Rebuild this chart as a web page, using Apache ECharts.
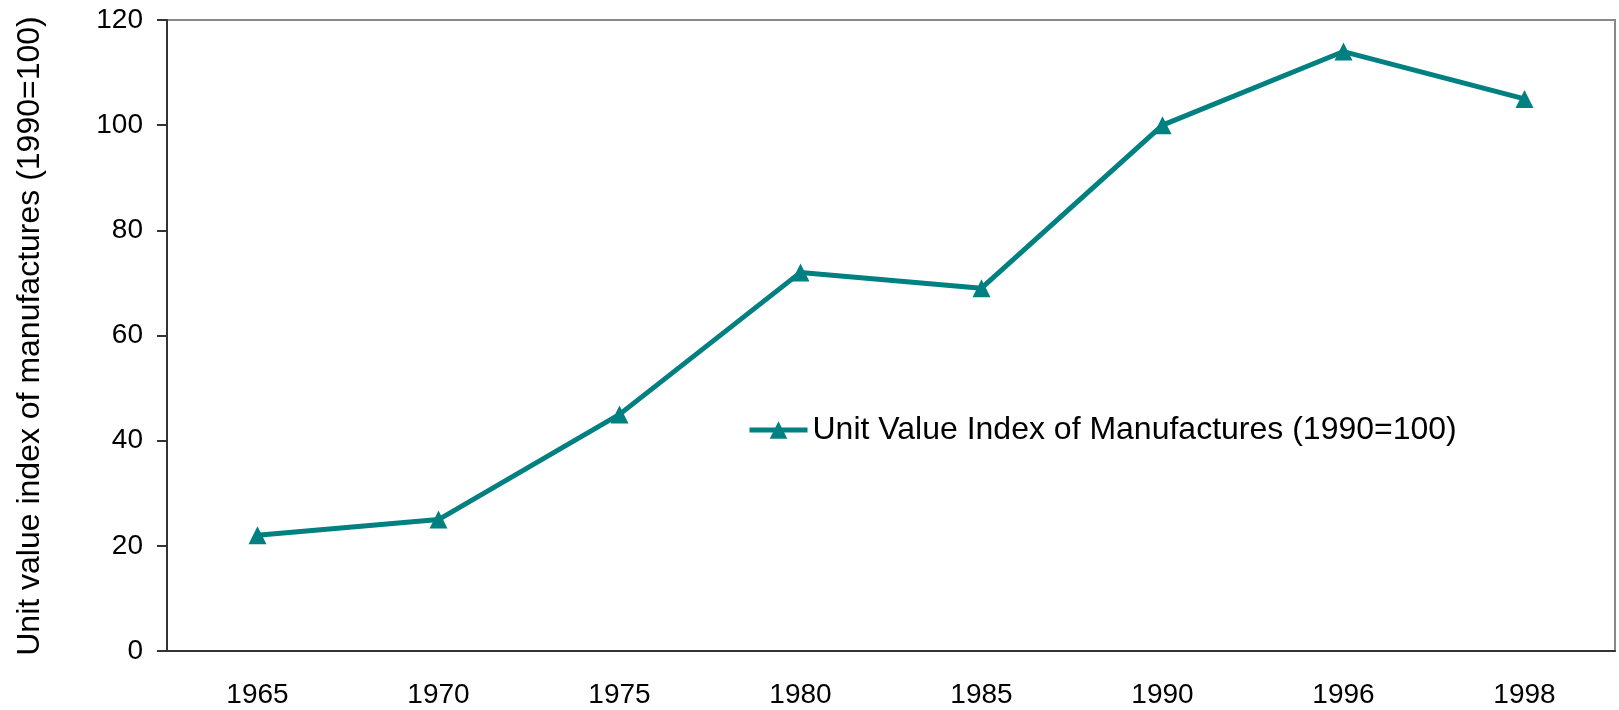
<!DOCTYPE html>
<html>
<head>
<meta charset="utf-8">
<script src="https://cdn.jsdelivr.net/npm/echarts@6/dist/echarts.min.js"></script>
<style>
  html, body { margin: 0; padding: 0; background: #fff; }
  #main { width: 1619px; height: 710px; }
</style>
</head>
<body>
<div id="main"></div>
<script>
// 数据
var years = ['1965', '1970', '1975', '1980', '1985', '1990', '1996', '1998'];
var unitValue = [22, 25, 45, 72, 69, 100, 114, 105];
var seriesName = 'Unit Value Index of Manufactures (1990=100)';
var yTitle = 'Unit value index of manufactures (1990=100)';

var font = 'Liberation Sans, Arial, sans-serif';
var myChart = echarts.init(document.getElementById('main'));

var option = {
    backgroundColor: '#fff',
    textStyle: { fontFamily: font },
    grid: { left: 167, right: 4, top: 20, bottom: 59, show: true, borderColor: '#888', borderWidth: 2 },
    legend: {
        data: [seriesName],
        left: 742,
        top: 409,
        itemWidth: 58,
        itemHeight: 22,
        lineStyle: { width: 5 },
        textStyle: { fontSize: 32, color: '#000', fontFamily: font }
    },
    // y轴标题
    graphic: [{
        type: 'text',
        x: 30,
        y: 336,
        rotation: Math.PI / 2,
        style: {
            text: yTitle,
            fontSize: 32,
            fontFamily: font,
            fill: '#000',
            textAlign: 'center',
            textVerticalAlign: 'middle'
        }
    }],
    xAxis: {
        type: 'category',
        data: years,
        boundaryGap: true,
        axisLine: { lineStyle: { color: '#333', width: 2 } },
        axisTick: { show: false },
        axisLabel: { fontSize: 28, color: '#000', margin: 30 }
    },
    yAxis: {
        type: 'value',
        min: 0,
        max: 120,
        interval: 20,
        axisLine: { show: true, lineStyle: { color: '#333', width: 2 } },
        axisTick: { show: true, length: 10, lineStyle: { color: '#333', width: 2 } },
        splitLine: { show: false },
        axisLabel: { fontSize: 28, color: '#000', margin: 24 }
    },
    series: [{
        name: seriesName,
        type: 'line',
        data: unitValue,
        symbol: 'triangle',
        symbolSize: 18,
        lineStyle: { color: '#008080', width: 5 },
        itemStyle: { color: '#008080' }
    }]
};

myChart.setOption(option);
</script>
</body>
</html>
